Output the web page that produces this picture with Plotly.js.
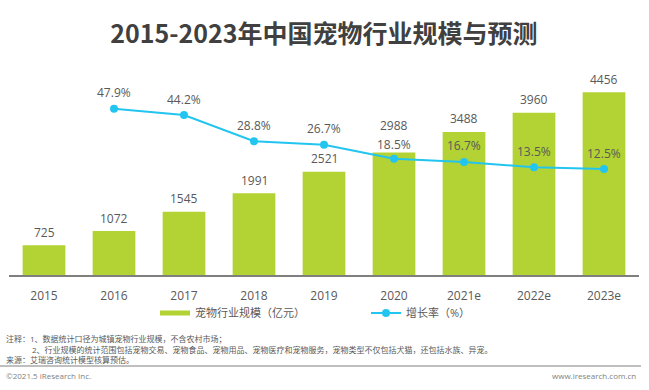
<!DOCTYPE html>
<html>
<head>
<meta charset="utf-8">
<script src="https://cdn.plot.ly/plotly-3.0.1.min.js"></script>
<style>html,body{margin:0;padding:0;background:#fff;}#chart{width:649px;height:390px;}</style>
</head>
<body>
<div id="chart"></div>
<script>
const years = ['2015','2016','2017','2018','2019','2020','2021e','2022e','2023e'];
const marketSize = [725,1072,1545,1991,2521,2988,3488,3960,4456];
const growthYears = ['2016','2017','2018','2019','2020','2021e','2022e','2023e'];
const growthRate = [47.9,44.2,28.8,26.7,18.5,16.7,13.5,12.5];
const titleText = '2015-2023年中国宠物行业规模与预测';
const barName = '宠物行业规模（亿元）';
const lineName = '增长率（%）';
const notes = [
  '注释：1、数据统计口径为城镇宠物行业规模，不含农村市场；',
  '2、行业规模的统计范围包括宠物交易、宠物食品、宠物用品、宠物医疗和宠物服务，宠物类型不仅包括犬猫，还包括水族、异宠。',
  '来源：艾瑞咨询统计模型核算预估。'
];
const copyright = '©2021.5 iResearch Inc.';
const website = 'www.iresearch.com.cn';

const FONT = '"Open Sans", "Noto Sans CJK SC", sans-serif';
const GREEN = '#b3d234', CYAN = '#22c5f0';
const W = 649, H = 390;
const mL = 9, mR = 10, mT = 60, mB = 115;
const plotW = W - mL - mR, plotH = H - mT - mB;
const px = x => (x - mL) / plotW;
const py = y => (H - mB - y) / plotH;

const annotations = [];
marketSize.forEach((v, i) => annotations.push({
  x: i, y: v, xref: 'x', yref: 'y', text: String(v), showarrow: false,
  yanchor: 'middle', yshift: years[i] === '2020' ? 27 : 13,
  font: {family: FONT, size: 12, color: '#595959'}
}));
growthRate.forEach((v, i) => annotations.push({
  x: years.indexOf(growthYears[i]), y: v, xref: 'x', yref: 'y2', text: v.toFixed(1) + '%', showarrow: false,
  yanchor: 'middle', yshift: growthYears[i] === '2020' ? 14 : 16, font: {family: FONT, size: 12, color: '#595959'}
}));
annotations.push({x: px(4), y: py(338), xref: 'paper', yref: 'paper', xanchor: 'left', yanchor: 'middle',
  text: notes[0], showarrow: false, font: {family: FONT, size: 8, color: '#595959'}});
annotations.push({x: px(30), y: py(349), xref: 'paper', yref: 'paper', xanchor: 'left', yanchor: 'middle',
  text: notes[1], showarrow: false, font: {family: FONT, size: 8, color: '#595959'}});
annotations.push({x: px(4), y: py(359.5), xref: 'paper', yref: 'paper', xanchor: 'left', yanchor: 'middle',
  text: notes[2], showarrow: false, font: {family: FONT, size: 8, color: '#595959'}});
annotations.push({x: px(4), y: py(375), xref: 'paper', yref: 'paper', xanchor: 'left', yanchor: 'middle',
  text: copyright, showarrow: false, font: {family: FONT, size: 8, color: '#7f7f7f'}});
annotations.push({x: px(638), y: py(375), xref: 'paper', yref: 'paper', xanchor: 'right', yanchor: 'middle',
  text: website, showarrow: false, font: {family: FONT, size: 8, color: '#7f7f7f'}});

const data = [
  {type: 'bar', x: years, y: marketSize, name: barName, marker: {color: GREEN},
   width: 0.61, showlegend: false, legendgroup: 'bar'},
  // legend swatch for the bars (thin wide bar as in the original legend)
  {type: 'scatter', mode: 'lines', x: [null], y: [null], name: barName, legendgroup: 'bar',
   line: {color: GREEN, width: 5}, showlegend: true},
  {type: 'scatter', mode: 'lines+markers', x: growthYears, y: growthRate, name: lineName, yaxis: 'y2',
   line: {color: CYAN, width: 2}, marker: {color: CYAN, size: 8}}
];

const layout = {
  width: W, height: H,
  margin: {l: mL, r: mR, t: mT, b: mB, pad: 0},
  paper_bgcolor: '#ffffff', plot_bgcolor: '#ffffff',
  title: {text: '<b>' + titleText + '</b>', x: 0.5, xref: 'paper', xanchor: 'center', y: 1 - 34 / H, yanchor: 'middle',
    font: {family: '"Noto Sans CJK SC", sans-serif', size: 25, color: '#404040'}},
  xaxis: {type: 'category', categoryorder: 'array', categoryarray: years, range: [-0.5, 8.5],
    showline: true, linecolor: '#7f7f7f', linewidth: 1.5, ticks: '', showgrid: false, zeroline: false,
    tickfont: {family: FONT, size: 12, color: '#595959'}, ticklabelstandoff: 9},
  yaxis: {range: [0, 5244], visible: false, showgrid: false, zeroline: false},
  yaxis2: {range: [-49.7, 76.5], overlaying: 'y', side: 'right', visible: false, showgrid: false, zeroline: false},
  showlegend: true,
  legend: {orientation: 'h', x: px(155), xanchor: 'left', y: py(313), yanchor: 'middle',
    font: {family: FONT, size: 11, color: '#595959'}, entrywidth: 166, entrywidthmode: 'pixels',
    bgcolor: 'rgba(0,0,0,0)'},
  shapes: [{type: 'line', xref: 'paper', yref: 'paper', x0: px(0), x1: px(641), y0: py(366), y1: py(366),
    line: {color: '#bfbfbf', width: 2}}],
  annotations: annotations,
  bargap: 0.39
};

Plotly.newPlot('chart', data, layout, {displayModeBar: false, staticPlot: true});
</script>
</body>
</html>
